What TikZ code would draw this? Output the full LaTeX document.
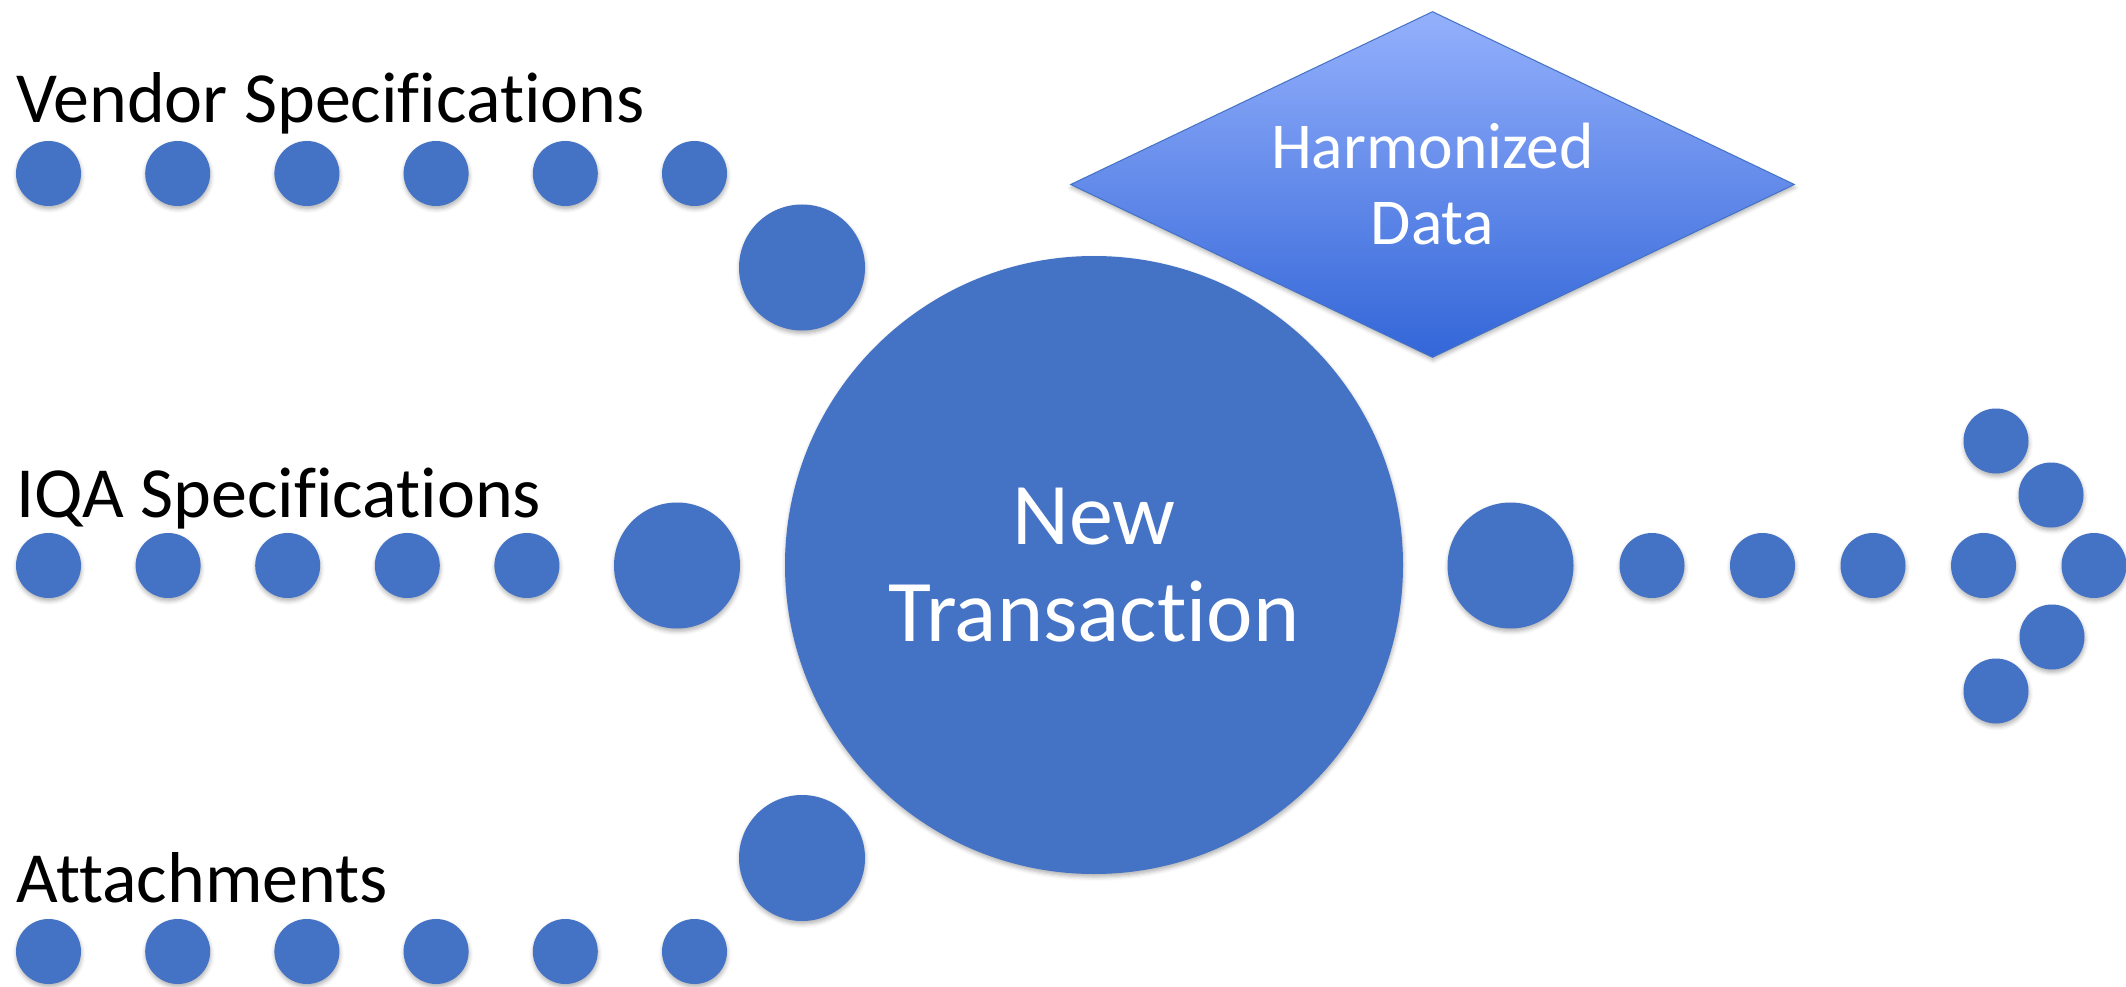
\documentclass[tikz,border=0pt]{standalone}
\usepackage{fontspec}
\setmainfont{Carlito}[Ligatures={NoCommon}]
\usetikzlibrary{shapes.geometric,shadows.blur}
\definecolor{obl}{HTML}{4472C4}
\definecolor{dtop}{HTML}{94B0FC}
\definecolor{dbot}{HTML}{3366D8}
\tikzset{
  shd/.style={blur shadow={shadow xshift=0.5pt,shadow yshift=-3pt,shadow blur radius=4pt,shadow opacity=30}},
  dot/.style={circle,fill=obl,draw=none,minimum size=65pt,inner sep=0pt,shd},
  bigdot/.style={circle,fill=obl,draw=none,minimum size=126pt,inner sep=0pt,shd},
  maincirc/.style={circle,fill=obl,draw=none,minimum size=618pt,inner sep=0pt,shd,
    text=white,align=center,font=\fontsize{88}{96.6}\selectfont},
  harm/.style={diamond,minimum width=724pt,minimum height=346pt,aspect=2.09,inner sep=0pt,
    top color=dtop,bottom color=dbot,draw=obl,line width=1pt,shd,
    text=white,align=center,font=\fontsize{65.5}{76}\selectfont},
  lbl/.style={anchor=base west,inner sep=0pt,text=black,font=\fontsize{72}{80}\selectfont}
}
\begin{document}
\begin{tikzpicture}[x=1pt,y=-1pt]
\useasboundingbox (0,0) rectangle (2126,987);
% labels
\node[lbl] (lv) at (16,123) {Vendor Specifications};
\node[lbl] (li) at (16,517) {IQA Specifications};
\node[lbl] (la) at (16,902) {Attachments};
% row 1
\foreach \i in {0,...,5} {\node[dot] (v\i) at ({48.5+129.2*\i},173.5) {};}
\node[bigdot] (vb) at (802,267.5) {};
% row 2
\foreach \i in {0,...,4} {\node[dot] (q\i) at ({48.5+119.6*\i},565.5) {};}
\node[bigdot] (qb) at (677,565.5) {};
% row 3
\foreach \i in {0,...,5} {\node[dot] (a\i) at ({48.5+129.2*\i},951.5) {};}
\node[bigdot] (ab) at (802,858) {};
% diamond
\node[harm] (hd) at (1432.5,184.5) {Harmonized\\Data};
% main circle
\node[maincirc] (nt) at (1094,565) {New\\Transaction};
% output side
\node[bigdot] (ob) at (1510.5,565.5) {};
\foreach \i in {0,...,4} {\node[dot] (o\i) at ({1652+110.5*\i},565.5) {};}
\node[dot] (u1) at (1996,441) {};
\node[dot] (u2) at (2051,495) {};
\node[dot] (d2) at (2052,637) {};
\node[dot] (d1) at (1996,691) {};
\end{tikzpicture}
\end{document}
